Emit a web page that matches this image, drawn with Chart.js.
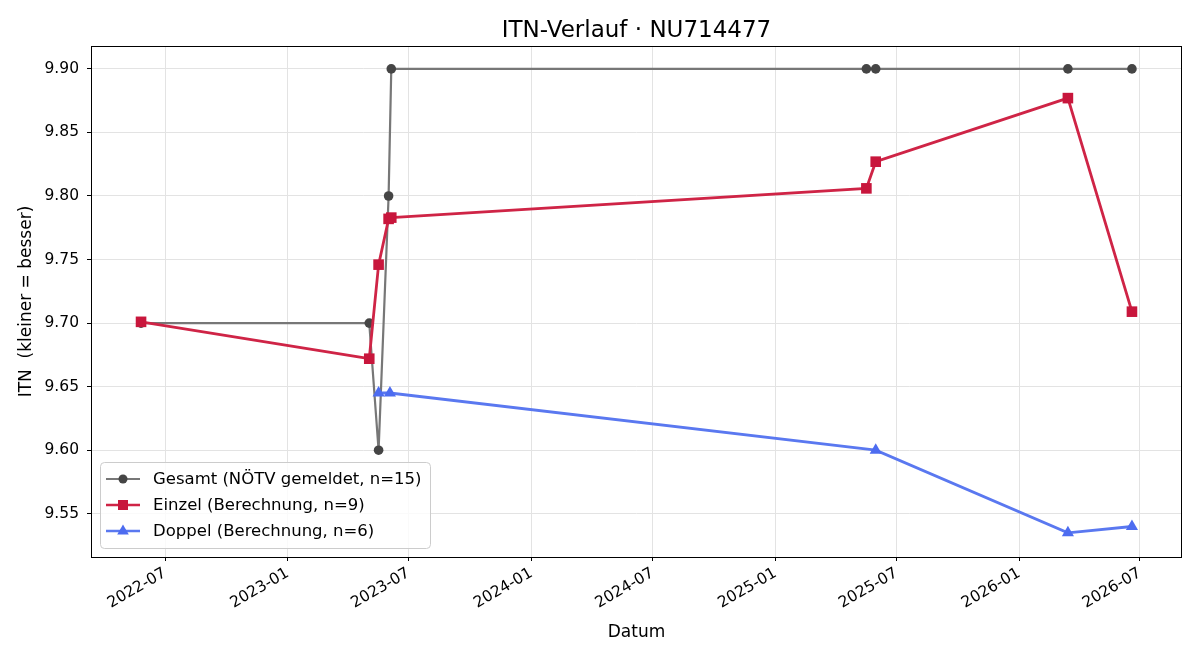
<!DOCTYPE html>
<html>
<head>
<meta charset="utf-8">
<script src="https://cdn.jsdelivr.net/npm/chart.js@4.4.1/dist/chart.umd.min.js"></script>
<style>
  html, body { margin: 0; padding: 0; background: #fff; }
  #wrap { width: 1200px; height: 660px; position: relative; }
</style>
</head>
<body>
<div id="wrap"><canvas id="itnChart" width="1200" height="660"></canvas></div>
<script>
const gesamtDates = ['2022-05-26', '2023-05-03', '2023-05-17', '2023-06-01', '2023-06-05', '2025-05-17', '2025-05-31', '2026-03-15', '2026-06-19'];
const gesamtValues = [9.70, 9.70, 9.60, 9.80, 9.90, 9.90, 9.90, 9.90, 9.90];

const einzelDates = ['2022-05-26', '2023-05-03', '2023-05-17', '2023-06-01', '2023-06-05', '2025-05-17', '2025-05-31', '2026-03-15', '2026-06-19'];
const einzelValues = [9.701, 9.672, 9.746, 9.782, 9.783, 9.806, 9.827, 9.877, 9.709];

const doppelDates = ['2023-05-17', '2023-06-03', '2025-05-31', '2026-03-15', '2026-06-19'];
const doppelValues = [9.645, 9.645, 9.600, 9.535, 9.540];

const xTickLabels = ['2022-07', '2023-01', '2023-07', '2024-01', '2024-07', '2025-01', '2025-07', '2026-01', '2026-07'];
const yTickValues = [9.55, 9.60, 9.65, 9.70, 9.75, 9.80, 9.85, 9.90];

const chartTitle = 'ITN-Verlauf · NU714477';
const FONT = '"DejaVu Sans", Verdana, sans-serif';

function toTime(s) {
  const p = s.split('-').map(Number);
  return Date.UTC(p[0], p[1] - 1, p[2] || 1);
}
function pairs(dates, values) {
  return dates.map((d, i) => ({ x: toTime(d), y: values[i] }));
}
function fmtMonth(v) {
  const d = new Date(v);
  return d.getUTCFullYear() + '-' + String(d.getUTCMonth() + 1).padStart(2, '0');
}

const legendItems = [
  { label: 'Gesamt (NÖTV gemeldet, n=15)', line: '#777777', fill: '#454545', style: 'circle', lw: 2 },
  { label: 'Einzel (Berechnung, n=9)', line: '#cf2446', fill: '#c8163c', style: 'rect', lw: 2.5 },
  { label: 'Doppel (Berechnung, n=6)', line: '#5a78f0', fill: '#4d6cf0', style: 'triangle', lw: 2.5 }
];

function drawMarker(ctx, style, x, y, color) {
  ctx.fillStyle = color;
  ctx.beginPath();
  if (style === 'circle') {
    ctx.arc(x, y, 4.5, 0, Math.PI * 2);
  } else if (style === 'rect') {
    ctx.rect(x - 5, y - 5, 10, 10);
  } else {
    ctx.moveTo(x, y - 6.5);
    ctx.lineTo(x + 5.8, y + 3.5);
    ctx.lineTo(x - 5.8, y + 3.5);
    ctx.closePath();
  }
  ctx.fill();
}

const framePlugin = {
  id: 'frameAndLegend',
  afterDraw(chart) {
    const { ctx, chartArea } = chart;
    ctx.save();
    ctx.strokeStyle = '#000';
    ctx.lineWidth = 1;
    ctx.strokeRect(chartArea.left + 0.5, chartArea.top + 0.5, chartArea.right - chartArea.left - 1, chartArea.bottom - chartArea.top);

    // title centred over the plot area
    ctx.fillStyle = '#000';
    ctx.font = '23px ' + FONT;
    ctx.textAlign = 'center';
    ctx.textBaseline = 'alphabetic';
    ctx.fillText(chartTitle, (chartArea.left + chartArea.right) / 2, 37);

    // legend box, lower left inside the plot
    const bx = chartArea.left + 9, by = chartArea.bottom - 95, bw = 330, bh = 86;
    ctx.beginPath();
    ctx.roundRect(bx + 0.5, by + 0.5, bw, bh, 4);
    ctx.fillStyle = 'rgba(255,255,255,0.8)';
    ctx.fill();
    ctx.strokeStyle = '#cccccc';
    ctx.stroke();

    ctx.font = '16.5px ' + FONT;
    ctx.textBaseline = 'middle';
    ctx.textAlign = 'left';
    legendItems.forEach((it, i) => {
      const y = by + 17 + i * 26;
      ctx.strokeStyle = it.line;
      ctx.lineWidth = it.lw;
      ctx.beginPath();
      ctx.moveTo(bx + 6, y);
      ctx.lineTo(bx + 40, y);
      ctx.stroke();
      drawMarker(ctx, it.style, bx + 23, y, it.fill);
      ctx.fillStyle = '#000';
      ctx.fillText(it.label, bx + 53, y + 1);
    });
    ctx.restore();
  }
};

const ctx = document.getElementById('itnChart').getContext('2d');
new Chart(ctx, {
  type: 'line',
  data: {
    datasets: [
      {
        label: legendItems[0].label,
        data: pairs(gesamtDates, gesamtValues),
        borderColor: '#777777',
        borderWidth: 2.2,
        pointStyle: 'circle',
        pointRadius: 4.8,
        pointBackgroundColor: '#454545',
        pointBorderColor: '#454545',
        pointBorderWidth: 0,
        tension: 0,
        order: 3
      },
      {
        label: legendItems[1].label,
        data: pairs(einzelDates, einzelValues),
        borderColor: '#cf2446',
        borderWidth: 2.8,
        pointStyle: 'rect',
        pointRadius: 7.5,
        pointBackgroundColor: '#c8163c',
        pointBorderColor: '#c8163c',
        pointBorderWidth: 0,
        tension: 0,
        order: 2
      },
      {
        label: legendItems[2].label,
        data: pairs(doppelDates, doppelValues),
        borderColor: '#5a78f0',
        borderWidth: 2.8,
        pointStyle: 'triangle',
        pointRadius: 7,
        pointBackgroundColor: '#4d6cf0',
        pointBorderColor: '#4d6cf0',
        pointBorderWidth: 0,
        tension: 0,
        order: 1
      }
    ]
  },
  options: {
    responsive: false,
    animation: false,
    layout: { padding: { left: 0, right: 18, top: 46, bottom: 0 } },
    plugins: {
      legend: { display: false },
      tooltip: { enabled: false },
      title: { display: false }
    },
    scales: {
      x: {
        type: 'linear',
        min: toTime('2022-03-12'),
        max: toTime('2026-09-02'),
        afterBuildTicks(scale) {
          scale.ticks = xTickLabels.map(l => ({ value: toTime(l + '-01') }));
        },
        afterFit(scale) { scale.height = 103; },
        ticks: {
          color: '#000',
          font: { family: FONT, size: 15.5 },
          minRotation: 30,
          maxRotation: 30,
          padding: 3,
          autoSkip: false,
          callback: (v) => fmtMonth(v)
        },
        grid: { color: '#e3e3e3', tickColor: '#000', tickLength: 4, drawTicks: true },
        border: { display: false },
        title: {
          display: true,
          text: 'Datum',
          color: '#000',
          font: { family: FONT, size: 17 },
          padding: { top: 17, bottom: 17 }
        }
      },
      y: {
        type: 'linear',
        min: 9.516,
        max: 9.918,
        afterBuildTicks(scale) {
          scale.ticks = yTickValues.map(v => ({ value: v }));
        },
        afterFit(scale) { scale.width = 91; },
        ticks: {
          color: '#000',
          font: { family: FONT, size: 15.5 },
          padding: 8,
          callback: (v) => v.toFixed(2)
        },
        grid: { color: '#e3e3e3', tickColor: '#000', tickLength: 4 },
        border: { display: false },
        title: {
          display: true,
          text: 'ITN  (kleiner = besser)',
          color: '#000',
          font: { family: FONT, size: 17 },
          padding: { top: 16, bottom: 16 }
        }
      }
    }
  },
  plugins: [framePlugin]
});
</script>
</body>
</html>
